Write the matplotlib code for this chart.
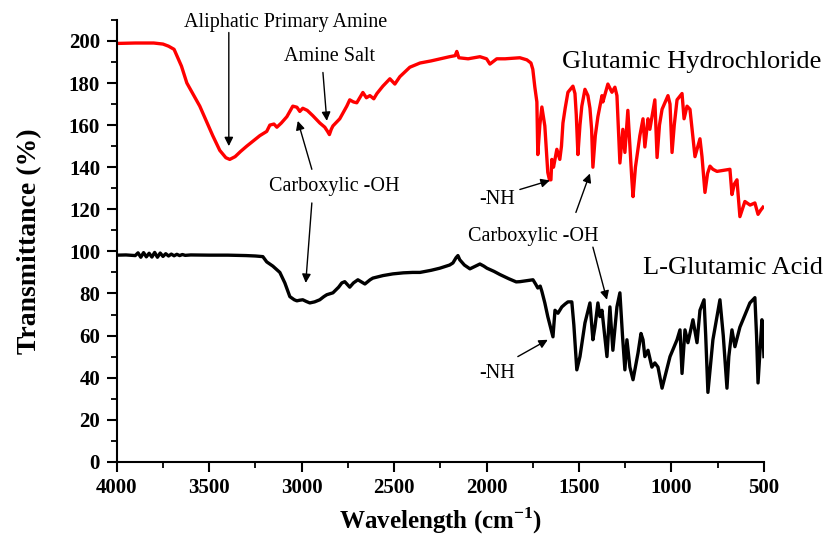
import matplotlib.pyplot as plt
from matplotlib.ticker import MultipleLocator

# Glutamic Hydrochloride spectrum (red)
wn_hcl = [4000, 3900, 3800, 3750, 3720, 3690, 3650, 3621, 3551, 3481, 3443, 3410, 3389, 3360, 3330,
          3297, 3226, 3189, 3172, 3150, 3134, 3110, 3080, 3048, 3026, 3010, 2994, 2970, 2940, 2902,
          2875, 2860, 2850, 2840, 2831, 2794, 2756, 2740, 2720, 2702, 2669, 2650, 2631, 2610, 2593,
          2561, 2523, 2496, 2469, 2415, 2360, 2300, 2250, 2200, 2170, 2161, 2150, 2100, 2036, 2000,
          1982, 1960, 1945, 1900, 1820, 1782, 1760, 1750, 1739, 1728, 1723, 1712, 1701, 1685, 1669,
          1660, 1652, 1647, 1638, 1630, 1620, 1604, 1595, 1587, 1575, 1560, 1533, 1522, 1515, 1506,
          1495, 1485, 1468, 1452, 1441, 1432, 1425, 1412, 1398, 1376, 1371, 1344, 1322, 1306, 1295,
          1288, 1279, 1263, 1252, 1236, 1225, 1215, 1208, 1195, 1171, 1154, 1144, 1127, 1117, 1090,
          1078, 1065, 1051, 1019, 1008, 997, 985, 970, 943, 932, 916, 900, 873, 846, 835,
          819, 805, 792, 776, 754, 684, 673, 660, 646, 630, 603, 575, 549, 532, 518, 505]
t_hcl = [198.8, 199, 199, 198.5, 197.5, 196, 188, 180, 169, 155, 148, 144.5, 143.7, 145, 147.5,
         150, 155, 157, 160, 160.5, 159, 161, 164, 169, 168.5, 166.5, 168, 167, 164.5, 161,
         159, 157, 155.5, 158, 159.6, 163, 169, 172, 171, 170.6, 175.5, 173, 174, 172.5, 175,
         178.5, 182, 179.5, 183, 187.5, 189.5, 190.5, 191.5, 192.5, 193, 195, 192, 191.5, 192.5, 191.5,
         189, 190.5, 191.5, 191.5, 192, 191, 189.5, 186.5, 178, 171, 146, 160, 168.6, 159.6, 137.5,
         134, 134, 143.7, 140, 143.7, 148.5, 143.7, 150, 161, 168, 175.6, 178.5, 175, 165, 146,
         160, 169, 177, 174, 168, 158, 140, 155, 164, 174, 171, 179.5, 175.6, 178, 174,
         160, 142, 158, 147, 167, 150, 135, 126, 140, 155, 163, 149.6, 163, 158, 172,
         144.6, 160, 167.5, 174, 170, 147, 160, 172, 175, 163, 169, 167.5, 145, 153.5, 145,
         128, 137, 140.5, 139, 138, 139, 127, 132, 134, 116.5, 123.7, 122, 123, 117.6, 119.5, 121]

# L-Glutamic Acid spectrum (black)
wn_acid = [4000, 3950, 3900, 3885, 3870, 3855, 3840, 3825, 3810, 3795, 3780, 3765, 3750, 3735, 3720,
           3705, 3690, 3675, 3660, 3645, 3630, 3600,
           3500, 3400, 3300, 3250, 3210, 3189, 3156, 3118, 3091, 3064, 3040, 3026, 3010, 2994, 2975,
           2956, 2930, 2902, 2880, 2864, 2831, 2800, 2783, 2767, 2740, 2720, 2696, 2658, 2630, 2615,
           2560, 2507, 2450, 2400, 2360, 2300, 2253, 2200, 2182, 2165, 2155, 2145, 2120, 2090, 2060,
           2036, 2015, 1998, 1960, 1928, 1880, 1840, 1820, 1790, 1749, 1735, 1723, 1710, 1701, 1685,
           1669, 1641, 1630, 1614, 1593, 1575, 1560, 1539, 1528, 1512, 1495, 1468, 1441, 1425, 1414,
           1398, 1387, 1376, 1349, 1333, 1317, 1295, 1279, 1265, 1252, 1241, 1225, 1208, 1181, 1165,
           1154, 1144, 1127, 1106, 1090, 1073, 1051, 1008, 970, 954, 943, 927, 911, 884, 862,
           846, 824, 815, 803, 790, 776, 738, 720, 700, 690, 673, 657, 630, 576, 549,
           540, 532, 511, 505, 500]
t_acid = [98.2, 98.3, 98, 99.3, 97.2, 99.4, 97.4, 99.1, 97.3, 99.5, 97.2, 99.2, 97.6, 98.9, 97.8,
          98.7, 97.9, 98.6, 98.0, 98.5, 98.1, 98.3,
          98.2, 98.2, 98, 97.8, 97.5, 95, 93, 90, 85, 78.5, 77, 76.5, 76.8, 77, 76.2,
          75.5, 76, 77, 78.5, 79.4, 80.3, 83, 85, 85.6, 83, 85, 86.5, 84.5, 86.5, 87.3,
          88.5, 89.3, 89.8, 90, 90, 91, 92, 93.5, 94.5, 97, 98, 96, 93.5, 91.7, 93,
          94, 93, 92, 90.5, 89, 87, 85.5, 85.6, 86, 86.5, 84.5, 82.6, 83.5, 81, 75.5,
          69, 59.4, 72, 70.6, 73.6, 75, 76, 76, 65, 43.7, 50, 66, 75.5, 58, 64,
          75.5, 69, 72, 50, 73.6, 53, 73.6, 80.3, 60, 43.7, 58, 45, 39, 51.7, 61,
          58, 50, 53, 45, 47, 45, 35, 50, 58, 62.7, 42, 62.7, 56.6, 67.5, 56.6,
          72, 77, 60, 33, 45, 58, 77, 60, 35, 50, 62.7, 54.7, 64, 75.5, 78,
          60, 37.5, 67.5, 60, 50]

serif = ["Liberation Serif", "DejaVu Serif"]
plt.rcParams["font.family"] = serif
plt.rcParams["mathtext.fontset"] = "custom"
plt.rcParams["mathtext.rm"] = "Liberation Serif"
plt.rcParams["mathtext.bf"] = "Liberation Serif:bold"

fig = plt.figure(figsize=(8.34, 5.37), dpi=100)
ax = fig.add_axes([0.140, 0.140, 0.776, 0.823])

ax.plot(wn_hcl, t_hcl, color="red", lw=2.4)
ax.plot(wn_acid, t_acid, color="black", lw=2.4)

ax.set_xlim(4000, 500)
ax.set_ylim(0, 210)
ax.xaxis.set_major_locator(MultipleLocator(500))
ax.xaxis.set_minor_locator(MultipleLocator(250))
ax.yaxis.set_minor_locator(MultipleLocator(10))
ax.set_yticks(range(0, 201, 20))

for s in ["top", "right"]:
    ax.spines[s].set_visible(False)
for s in ["left", "bottom"]:
    ax.spines[s].set_linewidth(1.5)
ax.tick_params(which="major", length=7, width=1.5, labelsize=15, pad=5)
ax.tick_params(which="minor", length=4, width=1.3)
for lab in ax.get_xticklabels() + ax.get_yticklabels():
    lab.set_fontweight("bold")

ax.set_xlabel("Wavelength (cm$^{\\mathbf{-1}}$)", fontsize=18, fontweight="bold")
ax.set_ylabel("Transmittance (%)", fontsize=20, fontweight="bold")
ax.xaxis.set_label_coords(0.5, -0.098)
ax.yaxis.set_label_coords(-0.115, 0.5)

arrow = dict(arrowstyle="-|>", color="black", lw=1, mutation_scale=13, shrinkA=0, shrinkB=0)

ax.text(3086, 208.6, "Aliphatic Primary Amine", fontsize=14.5, ha="center", va="center")
ax.annotate("", xy=(3394, 150), xytext=(3394, 204), arrowprops=arrow)

ax.text(2848, 192.4, "Amine Salt", fontsize=14.5, ha="center", va="center")
ax.annotate("", xy=(2864, 162), xytext=(2885, 185), arrowprops=arrow)

ax.text(2826, 130.9, "Carboxylic -OH", fontsize=14.5, ha="center", va="center")
ax.annotate("", xy=(3021, 162), xytext=(2945, 139), arrowprops=arrow)
ax.annotate("", xy=(2978, 85), xytext=(2945, 123), arrowprops=arrow)

ax.text(889, 190, "Glutamic Hydrochloride", fontsize=19, ha="center", va="center")
ax.text(667, 92.3, "L-Glutamic Acid", fontsize=19, ha="center", va="center")

ax.text(1944, 124.6, "-NH", fontsize=14.5, ha="center", va="center")
ax.annotate("", xy=(1658, 133.7), xytext=(1820, 129.4), arrowprops=arrow)

ax.text(1749, 107, "Carboxylic -OH", fontsize=14.5, ha="center", va="center")
ax.annotate("", xy=(1441, 137), xytext=(1517, 118.5), arrowprops=arrow)
ax.annotate("", xy=(1349, 77), xytext=(1425, 102), arrowprops=arrow)

ax.text(1944, 41.8, "-NH", fontsize=14.5, ha="center", va="center")
ax.annotate("", xy=(1669, 58), xytext=(1831, 50), arrowprops=arrow)

fig.savefig("out.png", dpi=100)
